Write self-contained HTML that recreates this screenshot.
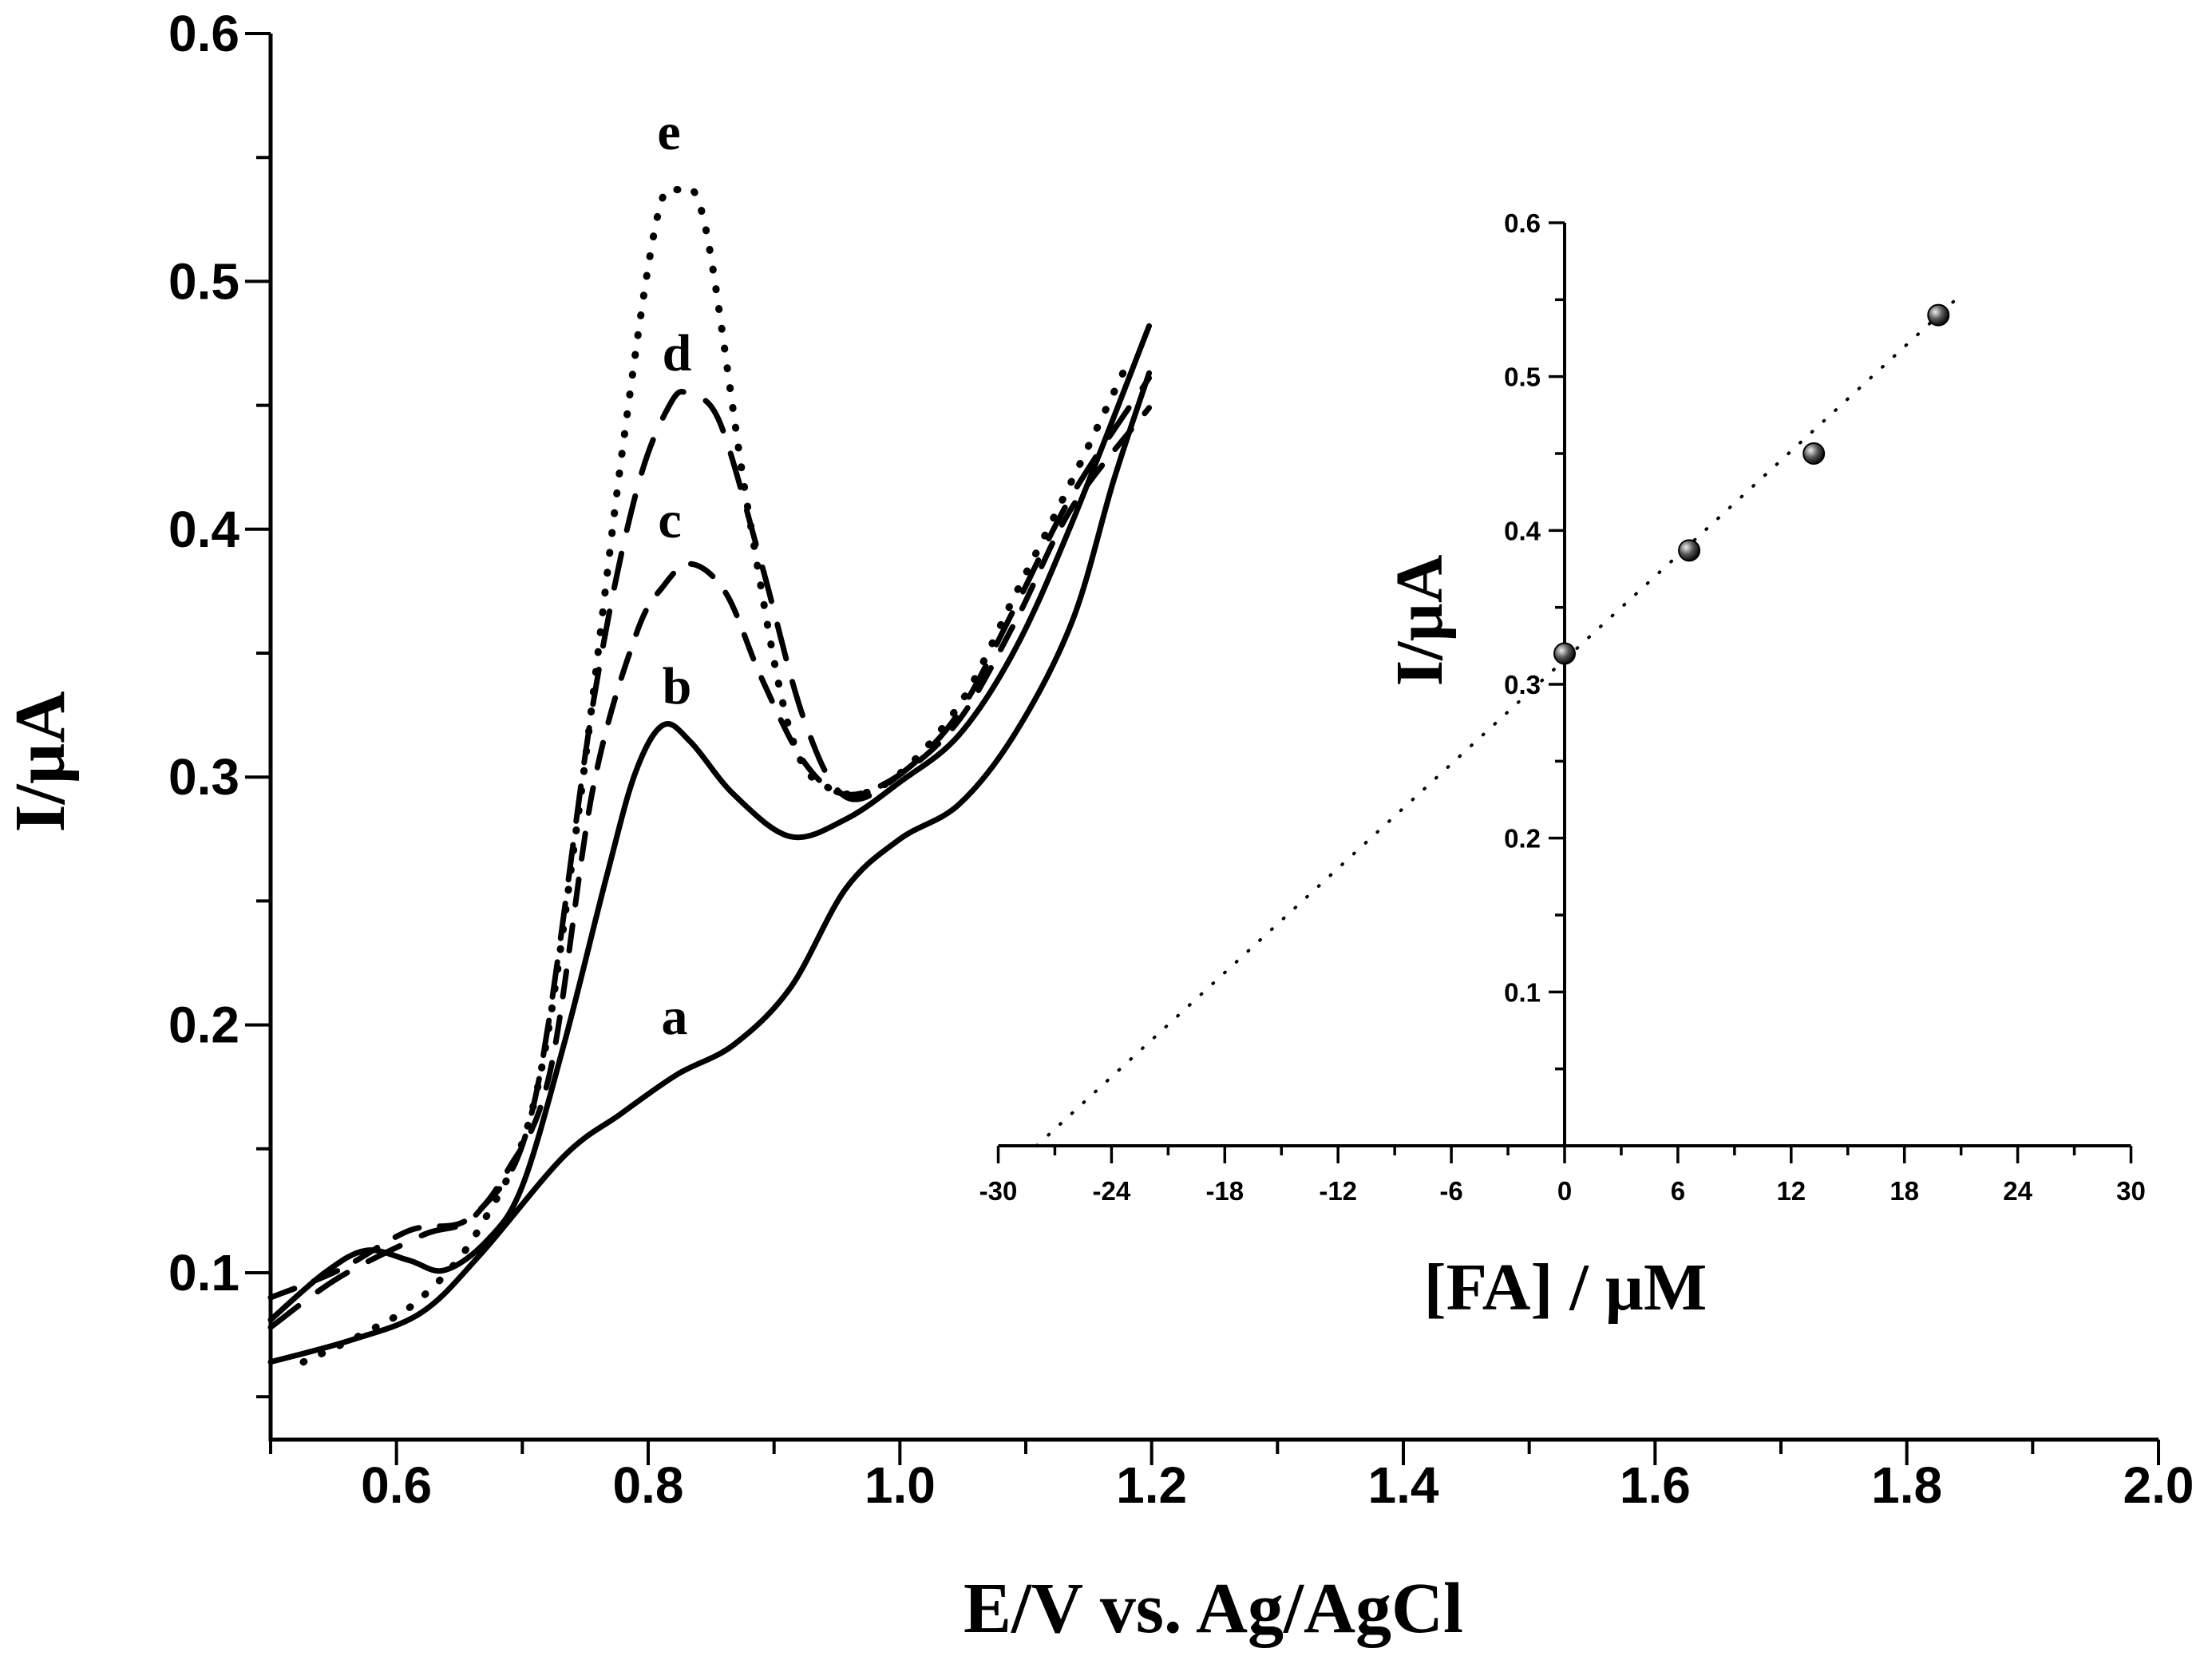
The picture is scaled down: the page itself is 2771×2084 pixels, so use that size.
<!DOCTYPE html>
<html><head><meta charset="utf-8"><style>
html,body{margin:0;padding:0;background:#fff}
svg{display:block}
.tk{font-family:"Liberation Sans",sans-serif;font-weight:bold}
.sr{font-family:"Liberation Serif",serif;font-weight:bold}
</style></head><body>
<svg id="chart" width="2771" height="2084" viewBox="0 0 2771 2084" xmlns="http://www.w3.org/2000/svg"></svg>
<script>
// Main chart data
const curveNames = ['a','b','c','d','e'];
const curveA_x = [0.5,0.565,0.62,0.666,0.733,0.778,0.823,0.868,0.913,0.957,1.0,1.047,1.092,1.137,1.17,1.198];
const curveA_y = [0.064,0.073,0.084,0.107,0.147,0.164,0.18,0.192,0.215,0.255,0.275,0.289,0.318,0.363,0.42,0.463];
const curveB_x = [0.5,0.543,0.576,0.61,0.638,0.672,0.7,0.733,0.767,0.79,0.812,0.834,0.868,0.913,0.957,1.0,1.047,1.092,1.137,1.198];
const curveB_y = [0.081,0.1,0.109,0.105,0.101,0.113,0.135,0.192,0.26,0.302,0.321,0.314,0.293,0.276,0.283,0.298,0.317,0.352,0.403,0.482];
const curveC_x = [0.5,0.554,0.61,0.655,0.688,0.722,0.756,0.79,0.812,0.834,0.862,0.89,0.924,0.957,1.0,1.047,1.092,1.137,1.198];
const curveC_y = [0.09,0.101,0.117,0.121,0.141,0.181,0.295,0.357,0.377,0.386,0.374,0.34,0.306,0.293,0.301,0.323,0.363,0.409,0.449];
const curveD_x = [0.5,0.554,0.62,0.666,0.71,0.756,0.79,0.818,0.834,0.857,0.89,0.924,0.957,1.0,1.047,1.092,1.137,1.198];
const curveD_y = [0.078,0.098,0.115,0.125,0.17,0.329,0.414,0.451,0.454,0.443,0.386,0.323,0.292,0.301,0.326,0.369,0.414,0.461];
const curveE_x = [0.526,0.576,0.62,0.666,0.71,0.744,0.778,0.806,0.823,0.845,0.879,0.913,0.946,0.991,1.047,1.092,1.137,1.18];
const curveE_y = [0.064,0.076,0.09,0.118,0.17,0.283,0.426,0.523,0.537,0.523,0.409,0.318,0.295,0.298,0.329,0.374,0.42,0.466];
const xTicks = [0.6,0.8,1.0,1.2,1.4,1.6,1.8,2.0];
const yTicks = [0.1,0.2,0.3,0.4,0.5,0.6];
// Inset data
const insetConc = [0,6.6,13.2,19.8];
const insetCurrent = [0.32,0.387,0.45,0.54];
const fitSlope = [0.0113];
const fitIntercept = [0.316];
const insetXTicks = [-30,-24,-18,-12,-6,0,6,12,18,24,30];
const insetYTicks = [0.1,0.2,0.3,0.4,0.5,0.6];

const NS='http://www.w3.org/2000/svg';
const svg=document.getElementById('chart');
function mk(tag,attrs,parent){const e=document.createElementNS(NS,tag);for(const k in attrs)e.setAttribute(k,attrs[k]);(parent||svg).appendChild(e);return e;}

const X=v=>339+(v-0.5)*(2704-339)/1.5;
const Y=v=>1594-(v-0.1)*(1594-42)/0.5;
const yBottom=1803;

const axes=mk('g',{});


mk('line',{x1:339,y1:yBottom,x2:2704,y2:yBottom,stroke:'#000','stroke-width':5},axes);
mk('line',{x1:339,y1:42,x2:339,y2:yBottom+2,stroke:'#000','stroke-width':5},axes);
for(let v=0.5;v<=2.0001;v+=0.1){const maj=Math.abs(Math.round(v*10)%2)===0;mk('line',{x1:X(v),y1:yBottom,x2:X(v),y2:yBottom+(maj?32:18),stroke:'#000','stroke-width':4},axes);}
for(let v=0.05;v<=0.6001;v+=0.05){const maj=Math.round(v*100)%10===0;mk('line',{x1:339,y1:Y(v),x2:339-(maj?32:18),y2:Y(v),stroke:'#000','stroke-width':4},axes);}
xTicks.forEach(v=>{const t=mk('text',{x:X(v),y:1882,'text-anchor':'middle','font-size':64,class:'tk'});


t.textContent=v.toFixed(1);});
yTicks.forEach(v=>{const t=mk('text',{x:300,y:Y(v)+22,'text-anchor':'end','font-size':64,class:'tk'});


t.textContent=v.toFixed(1);});
const xt=mk('text',{x:1520,y:2044,'text-anchor':'middle','font-size':90,class:'sr'});


xt.textContent='E/V vs. Ag/AgCl';
const yt=mk('text',{x:0,y:0,'text-anchor':'middle','font-size':90,class:'sr',transform:'translate(80,954) rotate(-90)'});


yt.textContent='I/\u00b5A';

function smooth(px,py){let d='M'+px[0]+','+py[0];for(let i=0;i<px.length-1;i++){const p0=i?i-1:0,p3=Math.min(i+2,px.length-1);
const c1x=px[i]+(px[i+1]-px[p0])/6,c1y=py[i]+(py[i+1]-py[p0])/6,c2x=px[i+1]-(px[p3]-px[i])/6,c2y=py[i+1]-(py[p3]-py[i])/6;
d+=` C${c1x},${c1y} ${c2x},${c2y} ${px[i+1]},${py[i+1]}`;}return d;}
const curves=[[curveA_x,curveA_y,'',7],[curveB_x,curveB_y,'',7],[curveC_x,curveC_y,'32 26',7],[curveD_x,curveD_y,'44 30',7],[curveE_x,curveE_y,'1 24',9]];
curves.forEach((c,i)=>{const p=mk('path',{d:smooth(c[0].map(X),c[1].map(Y)),fill:'none',stroke:'#000','stroke-width':c[3],'stroke-linecap':'round'});
if(c[2])p.setAttribute('stroke-dasharray',c[2]);

});
const lblPos=[[845,1295],[848,881],[839,673],[848,464],[838,187]];
curveNames.forEach((n,i)=>{const t=mk('text',{x:lblPos[i][0],y:lblPos[i][1],'text-anchor':'middle','font-size':66,class:'sr'});


t.textContent=n;});

// inset
const IX=v=>1960+v*(2670-1251)/60;
const IY=v=>1435-v*(1435-279)/0.6;
const ins=mk('g',{});


mk('line',{x1:IX(-30),y1:IY(0),x2:IX(30),y2:IY(0),stroke:'#000','stroke-width':4},ins);
mk('line',{x1:IX(0),y1:IY(0.6),x2:IX(0),y2:IY(0),stroke:'#000','stroke-width':4},ins);
for(let v=-30;v<=30;v+=3){const maj=v%6===0;mk('line',{x1:IX(v),y1:IY(0),x2:IX(v),y2:IY(0)+(maj?22:12),stroke:'#000','stroke-width':3.5},ins);}
for(let k=1;k<=12;k++){const v=k*0.05,maj=k%2===0;mk('line',{x1:IX(0),y1:IY(v),x2:IX(0)-(maj?20:12),y2:IY(v),stroke:'#000','stroke-width':3.5},ins);}
insetXTicks.forEach(v=>{const t=mk('text',{x:IX(v),y:1503,'text-anchor':'middle','font-size':33,class:'tk'});


t.textContent=String(v);});
insetYTicks.forEach(v=>{const t=mk('text',{x:IX(0)-30,y:IY(v)+12,'text-anchor':'end','font-size':33,class:'tk'});


t.textContent=v.toFixed(1);});
const ixt=mk('text',{x:1961,y:1640,'text-anchor':'middle','font-size':84,class:'sr'});


ixt.textContent='[FA] / \u00b5M';
const iyt=mk('text',{x:0,y:0,'text-anchor':'middle','font-size':84,class:'sr',transform:'translate(1806,777) rotate(-90)'});


iyt.textContent='I/\u00b5A';
const x0=-fitIntercept[0]/fitSlope[0], x1=20.6;
const fit=mk('line',{x1:IX(x0),y1:IY(0),x2:IX(x1),y2:IY(fitIntercept[0]+fitSlope[0]*x1),stroke:'#000','stroke-width':4,'stroke-dasharray':'1 19','stroke-linecap':'round'});


const defs=mk('defs',{});
const rg=mk('radialGradient',{id:'ball',cx:'0.35',cy:'0.35',r:'0.7'},defs);
mk('stop',{offset:'0','stop-color':'#eee'},rg);
mk('stop',{offset:'0.5','stop-color':'#555'},rg);
mk('stop',{offset:'1','stop-color':'#000'},rg);
insetConc.forEach((c,i)=>{const p=mk('circle',{cx:IX(c),cy:IY(insetCurrent[i]),r:13,fill:'url(#ball)',stroke:'#000','stroke-width':2});

});
</script>
</body></html>
